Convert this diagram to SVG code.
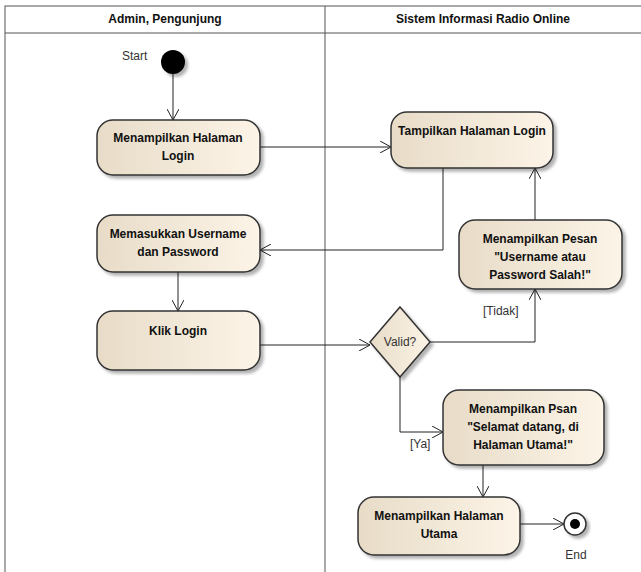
<svg xmlns="http://www.w3.org/2000/svg" width="641" height="572" viewBox="0 0 641 572">
<defs>
<linearGradient id="g" x1="0" y1="0" x2="1" y2="0">
<stop offset="0" stop-color="#E8DCC8"/>
<stop offset="1" stop-color="#FCF4E7"/>
</linearGradient>
<marker id="a" viewBox="0 0 12 12" refX="11" refY="6" markerWidth="12" markerHeight="12" markerUnits="userSpaceOnUse" orient="auto">
<path d="M0,0 L11,6 L0,12" fill="none" stroke="#222" stroke-width="1"/>
</marker>
<filter id="s" x="-10%" y="-10%" width="130%" height="140%">
<feDropShadow dx="3" dy="3" stdDeviation="1.5" flood-color="#000" flood-opacity="0.3"/>
</filter>
</defs>
<style>
.lane{fill:#fff;stroke:#555;stroke-width:1}
.hd{font-family:"Liberation Sans",Arial,sans-serif;font-size:12px;font-weight:bold;fill:#111;text-anchor:middle}
.n{fill:url(#g);stroke:#333;stroke-width:1.5;filter:url(#s)}
.t{font-family:"Liberation Sans",Arial,sans-serif;font-size:12px;font-weight:bold;fill:#111;text-anchor:middle}
.l{font-family:"Liberation Sans",Arial,sans-serif;font-size:12px;fill:#333}
.c{fill:none;stroke:#222;stroke-width:1;marker-end:url(#a)}
</style>
<rect width="641" height="572" fill="#fff"/>
<g id="lanes">
<rect class="lane" x="5" y="6" width="640" height="580"/>
<line x1="5" y1="33" x2="641" y2="33" stroke="#555"/>
<line x1="325" y1="6" x2="325" y2="572" stroke="#555"/>
<text class="hd" x="165" y="23">Admin, Pengunjung</text>
<text class="hd" x="483" y="23">Sistem Informasi Radio Online</text>
</g>
<g id="connectors">
<path class="c" d="M173,74 L173,120"/>
<path class="c" d="M260,147 L391,147"/>
<path class="c" d="M443,168 L443,250 L260,250"/>
<path class="c" d="M178,272 L178,311"/>
<path class="c" d="M260,345 L370,345"/>
<path class="c" d="M430,342 L535,342 L535,289"/>
<path class="c" d="M535,220 L535,168"/>
<path class="c" d="M400,377 L400,432 L443,432"/>
<path class="c" d="M483,465 L483,497"/>
<path class="c" d="M520,524 L564,524"/>
<text class="l" x="483" y="315">[Tidak]</text>
<text class="l" x="410" y="448">[Ya]</text>
</g>
<g id="start">
<circle cx="173" cy="62" r="12" fill="#000" filter="url(#s)"/>
<text class="l" x="122" y="60">Start</text>
</g>
<g id="n1">
<rect class="n" x="97" y="120" width="163" height="55" rx="16"/>
<text class="t" x="178" y="142">Menampilkan Halaman</text>
<text class="t" x="178" y="160">Login</text>
</g>
<g id="n2">
<rect class="n" x="391" y="112" width="162" height="56" rx="16"/>
<text class="t" x="472" y="135">Tampilkan Halaman Login</text>
</g>
<g id="n3">
<rect class="n" x="97" y="215" width="163" height="57" rx="16"/>
<text class="t" x="178" y="238">Memasukkan Username</text>
<text class="t" x="178" y="256">dan Password</text>
</g>
<g id="n4">
<rect class="n" x="97" y="311" width="163" height="59" rx="16"/>
<text class="t" x="178" y="335">Klik Login</text>
</g>
<g id="decision">
<polygon class="n" points="400,307 430,342 400,377 370,342"/>
<text class="l" x="400" y="346" text-anchor="middle">Valid?</text>
</g>
<g id="n5">
<rect class="n" x="459" y="220" width="163" height="69" rx="16"/>
<text class="t" x="540" y="243">Menampilkan Pesan</text>
<text class="t" x="540" y="261">"Username atau</text>
<text class="t" x="540" y="279">Password Salah!"</text>
</g>
<g id="n6">
<rect class="n" x="443" y="390" width="161" height="75" rx="16"/>
<text class="t" x="523" y="413">Menampilkan Psan</text>
<text class="t" x="523" y="431">"Selamat datang, di</text>
<text class="t" x="523" y="449">Halaman Utama!"</text>
</g>
<g id="n7">
<rect class="n" x="358" y="497" width="162" height="58" rx="16"/>
<text class="t" x="439" y="520">Menampilkan Halaman</text>
<text class="t" x="439" y="538">Utama</text>
</g>
<g id="end">
<circle cx="575" cy="524" r="11" fill="#fff" stroke="#333" stroke-width="1.5" filter="url(#s)"/>
<circle cx="575" cy="524" r="5" fill="#000"/>
<text class="l" x="576" y="559" text-anchor="middle">End</text>
</g>
</svg>
